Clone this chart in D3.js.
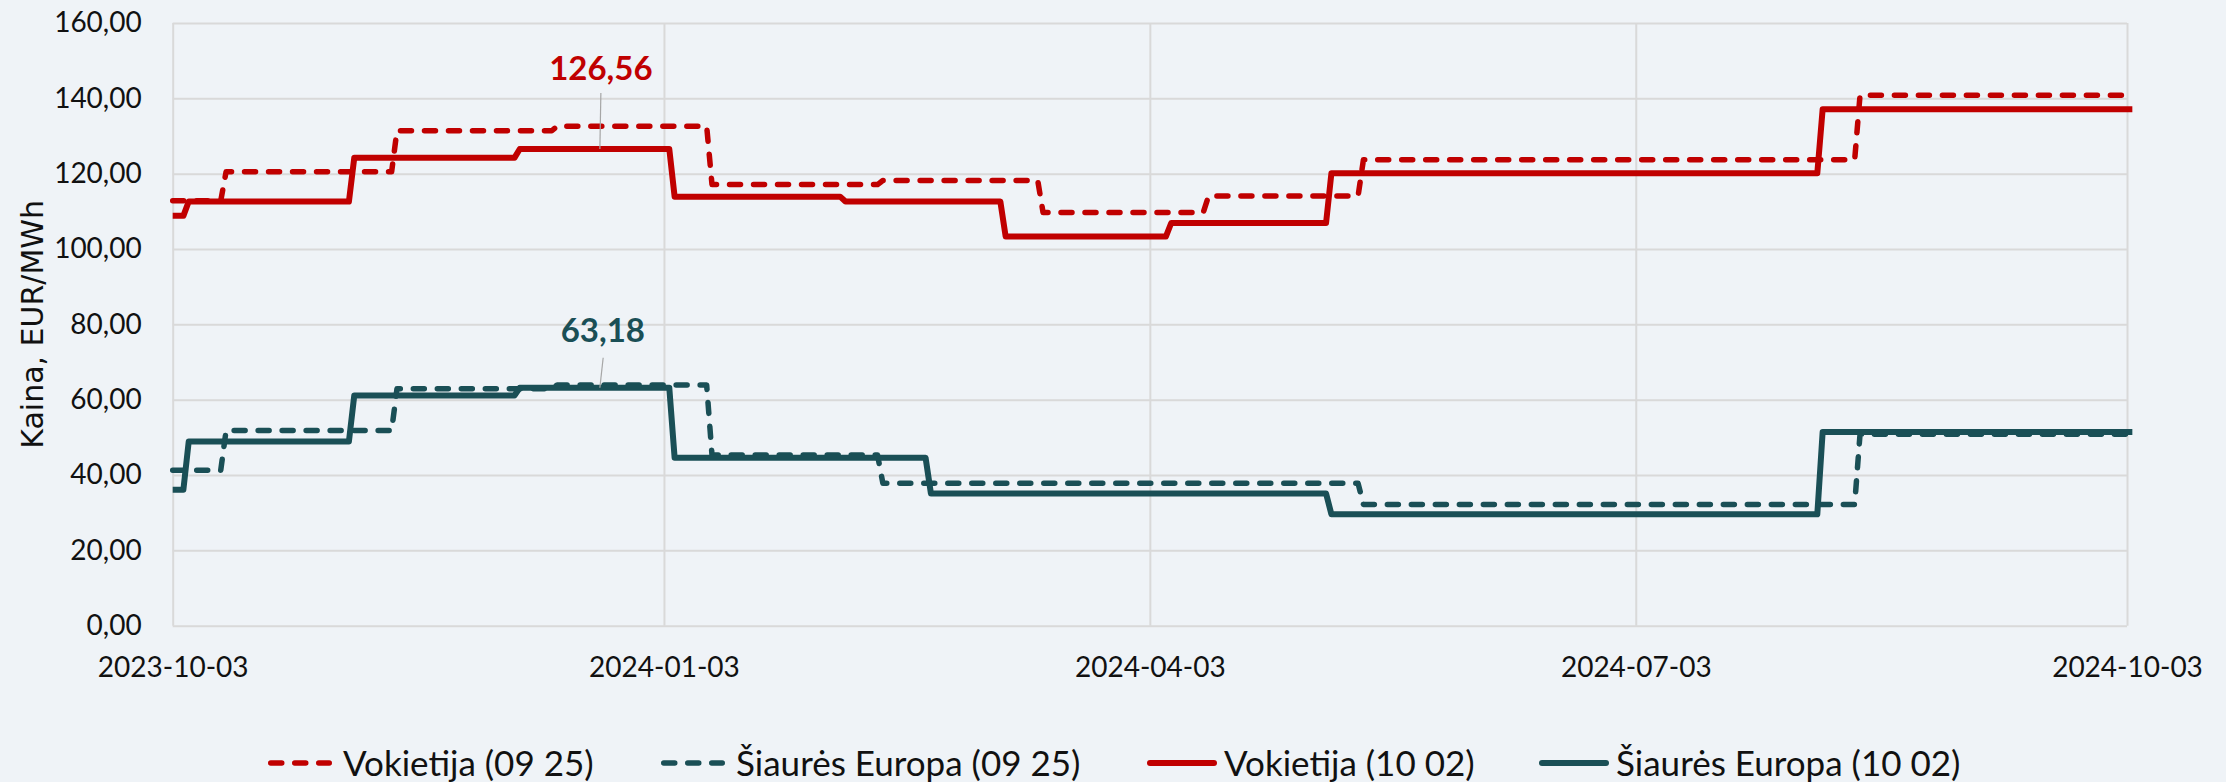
<!DOCTYPE html>
<html>
<head>
<meta charset="utf-8">
<script src="https://cdn.jsdelivr.net/npm/d3@7"></script>
<style>
  html, body { margin: 0; padding: 0; background: #eff3f7; }
  svg { display: block; }
</style>
</head>
<body>
<svg id="chart"></svg>
<script>
// ticks
const xTickDates = ['2023-10-03', '2024-01-03', '2024-04-03', '2024-07-03', '2024-10-03'];
const yTickValues = [0, 20, 40, 60, 80, 100, 120, 140, 160];
const lastDate = '2024-10-04';

// each array: date when a new price level starts, and that level
const deOldDates = ['2023-10-03', '2023-10-13', '2023-11-14', '2023-12-14', '2024-01-12', '2024-02-13', '2024-03-14', '2024-04-14', '2024-05-13', '2024-08-14'];
const deOldValues = [112.8, 120.5, 131.4, 132.6, 117.1, 118.2, 109.7, 114.1, 123.7, 140.8];

const neOldDates = ['2023-10-03', '2023-10-13', '2023-11-14', '2023-12-14', '2024-01-12', '2024-02-13', '2024-05-13', '2024-08-14'];
const neOldValues = [41.3, 51.8, 62.9, 63.9, 45.3, 37.8, 32.2, 50.8];

const deNewDates = ['2023-10-03', '2023-10-06', '2023-11-06', '2023-12-07', '2024-01-05', '2024-02-06', '2024-03-07', '2024-04-07', '2024-05-07', '2024-08-07'];
const deNewValues = [108.8, 112.6, 124.2, 126.56, 113.9, 112.6, 103.3, 106.9, 120.1, 137.1];

const neNewDates = ['2023-10-03', '2023-10-06', '2023-11-06', '2023-12-07', '2024-01-05', '2024-02-22', '2024-05-07', '2024-08-07'];
const neNewValues = [36.1, 48.9, 61.1, 63.18, 44.6, 35.1, 29.6, 51.4];

const seriesNames = ['Vokietija (09 25)', 'Šiaurės Europa (09 25)', 'Vokietija (10 02)', 'Šiaurės Europa (10 02)'];

// peak labels
const peakDate = '2023-12-22';
const peakValues = [126.56, 63.18];

const red = '#c00000';
const teal = '#1a4f56';
const grid = '#d9d9d9';

const width = 2226;
const height = 782;
const plotLeft = 172.7, plotRight = 2127, plotTop = 23, plotBottom = 625.7;

const parse = d3.timeParse('%Y-%m-%d');
const dayBefore = d => d3.timeDay.offset(d, -1);

const ltLocale = d3.formatLocale({ decimal: ',', thousands: ' ', grouping: [3], currency: ['', ' €'] });
const fmt = ltLocale.format('.2f');

const x = d3.scaleTime().domain([parse(xTickDates[0]), parse(xTickDates[xTickDates.length - 1])]).range([plotLeft, plotRight]);
const y = d3.scaleLinear().domain([0, 160]).range([plotBottom, plotTop]);

function steps(dates, values) {
  const pts = [];
  dates.forEach((d, i) => {
    const start = parse(d);
    const end = i < dates.length - 1 ? dayBefore(parse(dates[i + 1])) : parse(lastDate);
    pts.push([start, values[i]]);
    pts.push([end, values[i]]);
  });
  return pts;
}

const series = [
  { name: seriesNames[0], color: red, dashed: true, points: steps(deOldDates, deOldValues) },
  { name: seriesNames[1], color: teal, dashed: true, points: steps(neOldDates, neOldValues) },
  { name: seriesNames[2], color: red, dashed: false, points: steps(deNewDates, deNewValues) },
  { name: seriesNames[3], color: teal, dashed: false, points: steps(neNewDates, neNewValues) },
];

const svg = d3.select('#chart').attr('width', width).attr('height', height);
svg.append('rect').attr('width', width).attr('height', height).attr('fill', '#eff3f7');

const tickFont = 'Lato, "Open Sans", sans-serif';

// y axis + horizontal grid
const yAxis = svg.append('g')
  .attr('transform', `translate(${plotLeft},0)`)
  .call(d3.axisLeft(y).tickValues(yTickValues).tickFormat(fmt).tickSize(-(plotRight - plotLeft)).tickPadding(31));
yAxis.select('.domain').remove();
yAxis.selectAll('line').attr('stroke', grid).attr('stroke-width', 2);
yAxis.selectAll('text').attr('font-family', tickFont).attr('font-size', 28).attr('fill', '#111');

// x axis + vertical grid
const xAxis = svg.append('g')
  .attr('transform', `translate(0,${plotBottom})`)
  .call(d3.axisBottom(x).tickValues(xTickDates.map(parse)).tickFormat(d3.timeFormat('%Y-%m-%d'))
    .tickSize(-(plotBottom - plotTop)).tickPadding(31));
xAxis.select('.domain').remove();
xAxis.selectAll('line').attr('stroke', grid).attr('stroke-width', 2);
xAxis.selectAll('text').attr('font-family', tickFont).attr('font-size', 28).attr('fill', '#111');

// y title
svg.append('text')
  .attr('transform', `translate(32,${(plotTop + plotBottom) / 2}) rotate(-90)`)
  .attr('text-anchor', 'middle')
  .attr('dominant-baseline', 'central')
  .attr('font-family', '"DejaVu Sans", Verdana, sans-serif')
  .attr('font-size', 30)
  .attr('fill', '#111')
  .text('Kaina, EUR/MWh');

const line = d3.line().x(d => x(d[0])).y(d => y(d[1]));

svg.append('g').selectAll('path').data(series).enter()
  .append('path')
  .attr('d', d => line(d.points))
  .attr('fill', 'none')
  .attr('stroke', d => d.color)
  .attr('stroke-width', d => d.dashed ? 5.5 : 6)
  .attr('stroke-linejoin', 'round')
  .attr('stroke-linecap', d => d.dashed ? 'round' : 'butt')
  .attr('stroke-dasharray', d => d.dashed ? '11,13' : null);

// peak labels with leader lines
const labelSpecs = [
  { value: peakValues[0], color: red, lead: [1, -56], textDy: -68.6, dx: 1 },
  { value: peakValues[1], color: teal, lead: [3.3, -30], textDy: -46, dx: 3 },
];
const labels = svg.append('g');
labelSpecs.forEach(s => {
  const px = x(parse(peakDate));
  const py = y(s.value);
  labels.append('line')
    .attr('x1', px).attr('y1', py)
    .attr('x2', px + s.lead[0]).attr('y2', py + s.lead[1])
    .attr('stroke', '#a6a6a6').attr('stroke-width', 1.2);
  labels.append('text')
    .attr('x', px + s.dx).attr('y', py + s.textDy)
    .attr('text-anchor', 'middle')
    .attr('font-family', tickFont)
    .attr('font-weight', 'bold')
    .attr('font-size', 33)
    .attr('fill', s.color)
    .text(fmt(s.value));
});

// legend
const legendX = [268, 661, 1147, 1539];
const legendY = 763;
const legend = svg.append('g');
series.forEach((s, i) => {
  const g = legend.append('g').attr('transform', `translate(${legendX[i]},${legendY})`);
  if (s.dashed) {
    g.append('line').attr('x1', 2.75).attr('x2', 61.25).attr('y1', 0).attr('y2', 0)
      .attr('stroke', s.color).attr('stroke-width', 5.5)
      .attr('stroke-linecap', 'round').attr('stroke-dasharray', '11,13');
  } else {
    g.append('line').attr('x1', 3).attr('x2', 67).attr('y1', 0).attr('y2', 0)
      .attr('stroke', s.color).attr('stroke-width', 6).attr('stroke-linecap', 'round');
  }
  g.append('text')
    .attr('x', s.dashed ? 75 : 77)
    .attr('y', 0)
    .attr('dy', '0.36em')
    .attr('font-family', tickFont)
    .attr('font-size', 35)
    .attr('fill', '#111')
    .text(s.name);
});
</script>
</body>
</html>
